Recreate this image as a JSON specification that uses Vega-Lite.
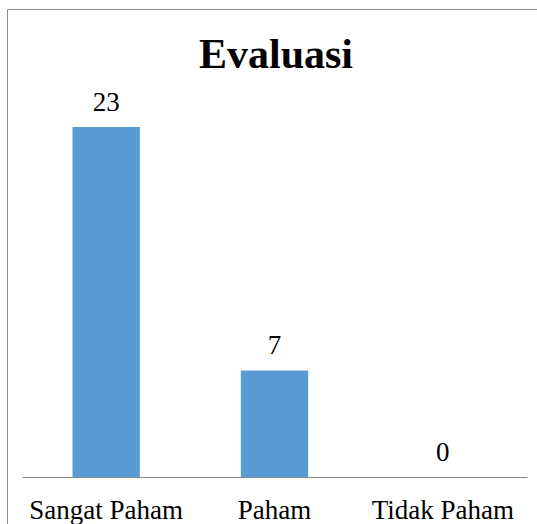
{
  "$schema": "https://vega.github.io/schema/vega-lite/v6.json",
  "width": 530,
  "height": 515,
  "autosize": {"type": "none"},
  "padding": {"left": 7, "top": 9, "right": 0, "bottom": 0},
  "background": "white",
  "title": {
    "text": "Evaluasi",
    "font": "Liberation Serif",
    "fontSize": 42,
    "fontWeight": "bold",
    "color": "black",
    "anchor": "middle",
    "frame": "group",
    "baseline": "alphabetic",
    "offset": -101,
    "dx": 4
  },
  "config": {
    "view": {"stroke": "#8c8c8c", "strokeWidth": 1},
    "font": "Liberation Serif"
  },
  "data": {
    "values": [
      {"kategori": "Sangat Paham", "jumlah": 23},
      {"kategori": "Paham", "jumlah": 7},
      {"kategori": "Tidak Paham", "jumlah": 0}
    ]
  },
  "encoding": {
    "x": {
      "field": "kategori",
      "type": "nominal",
      "sort": null,
      "scale": {"range": [15, 520], "paddingInner": 0.6, "paddingOuter": 0.3},
      "axis": {
        "title": null,
        "orient": "bottom",
        "offset": -47,
        "labelAngle": 0,
        "labelFont": "Liberation Serif",
        "labelFontSize": 27,
        "labelColor": "black",
        "labelBaseline": "alphabetic",
        "labelPadding": 41,
        "ticks": false,
        "tickSize": 0,
        "domainColor": "#888888",
        "domainWidth": 1,
        "grid": false
      }
    },
    "y": {
      "field": "jumlah",
      "type": "quantitative",
      "scale": {"domain": [0, 23], "range": [468, 118], "nice": false, "zero": true},
      "axis": null
    }
  },
  "layer": [
    {"mark": {"type": "bar", "color": "#5B9BD5"}},
    {
      "mark": {
        "type": "text",
        "font": "Liberation Serif",
        "fontSize": 27,
        "color": "black",
        "baseline": "alphabetic",
        "dy": -16
      },
      "encoding": {"text": {"field": "jumlah", "type": "quantitative"}}
    }
  ]
}
